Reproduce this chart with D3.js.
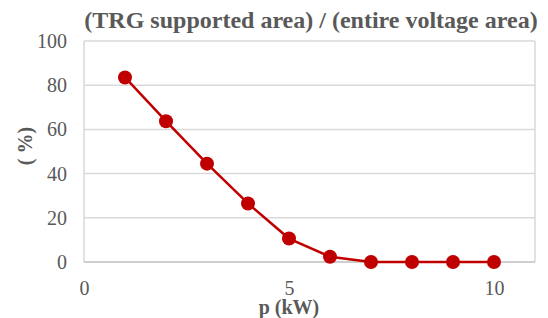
<!DOCTYPE html>
<html><head><meta charset="utf-8"><script src="https://cdn.jsdelivr.net/npm/d3@7"></script></head>
<body style="margin:0">
<div id="c"></div>
<script>
// data
const pValues = [1, 2, 3, 4, 5, 6, 7, 8, 9, 10];
const ratioValues = [83.5, 63.7, 44.5, 26.5, 10.6, 2.4, 0, 0, 0, 0];
const xTicks = [0, 5, 10];
const yTicks = [0, 20, 40, 60, 80, 100];

const titleText = '(TRG supported area) / (entire voltage area)';
const xLabel = 'p (kW)';
const yLabel = '( %)';

const textColor = '#595959';

const width = 548, height = 318;
const margin = { top: 41, right: 13, bottom: 56, left: 84 };
const innerW = width - margin.left - margin.right;
const innerH = height - margin.top - margin.bottom;

const svg = d3.select('#c').append('svg')
  .attr('width', width)
  .attr('height', height)
  .attr('font-family', 'Liberation Serif');

const x = d3.scaleLinear().domain([0, 11]).range([margin.left, margin.left + innerW]);
const y = d3.scaleLinear().domain([0, 100]).range([margin.top + innerH, margin.top]);

// Gridlines
svg.append('g')
  .selectAll('line')
  .data(yTicks.filter(d => d > 0))
  .join('line')
  .attr('x1', x(0))
  .attr('x2', x(11))
  .attr('y1', d => y(d))
  .attr('y2', d => y(d))
  .attr('stroke', '#d9d9d9')
  .attr('stroke-width', 1.5);

// side borders
svg.append('g')
  .selectAll('line')
  .data([0, 11])
  .join('line')
  .attr('x1', d => x(d))
  .attr('x2', d => x(d))
  .attr('y1', y(100))
  .attr('y2', y(0))
  .attr('stroke', '#d9d9d9')
  .attr('stroke-width', 1.5);

// x axis line
svg.append('line')
  .attr('x1', x(0))
  .attr('x2', x(11))
  .attr('y1', y(0))
  .attr('y2', y(0))
  .attr('stroke', '#bfbfbf')
  .attr('stroke-width', 1.5);

// Axes (labels only)
const xAxis = svg.append('g')
  .attr('transform', `translate(0,${y(0)})`)
  .call(d3.axisBottom(x).tickValues(xTicks).tickSize(0).tickPadding(19));
xAxis.select('.domain').remove();
xAxis.attr('font-family', 'Liberation Serif').attr('font-size', 20);
xAxis.selectAll('text').attr('fill', textColor);

const yAxis = svg.append('g')
  .attr('transform', `translate(${x(0)},0)`)
  .call(d3.axisLeft(y).tickValues(yTicks).tickSize(0).tickPadding(17));
yAxis.select('.domain').remove();
yAxis.attr('font-family', 'Liberation Serif').attr('font-size', 20);
yAxis.selectAll('text').attr('fill', textColor);

// Line
const pts = pValues.map((p, i) => ({ p, v: ratioValues[i] }));
svg.append('path')
  .datum(pts)
  .attr('fill', 'none')
  .attr('stroke', '#c00000')
  .attr('stroke-width', 2.5)
  .attr('d', d3.line().x(d => x(d.p)).y(d => y(d.v)));

svg.append('g')
  .selectAll('circle')
  .data(pts)
  .join('circle')
  .attr('cx', d => x(d.p))
  .attr('cy', d => y(d.v))
  .attr('r', 7)
  .attr('fill', '#c00000');

// Title
svg.append('text')
  .attr('x', 311)
  .attr('y', 28)
  .attr('text-anchor', 'middle')
  .attr('fill', textColor)
  .attr('font-size', 24)
  .attr('font-weight', 'bold')
  .text(titleText);

// Axis titles
svg.append('text')
  .attr('x', x(5))
  .attr('y', 314)
  .attr('text-anchor', 'middle')
  .attr('fill', textColor)
  .attr('font-size', 20)
  .attr('font-weight', 'bold')
  .text(xLabel);

svg.append('text')
  .attr('transform', 'translate(32,146) rotate(-90)')
  .attr('text-anchor', 'middle')
  .attr('fill', textColor)
  .attr('font-size', 20)
  .attr('font-weight', 'bold')
  .text(yLabel);
</script>
</body>
</html>
